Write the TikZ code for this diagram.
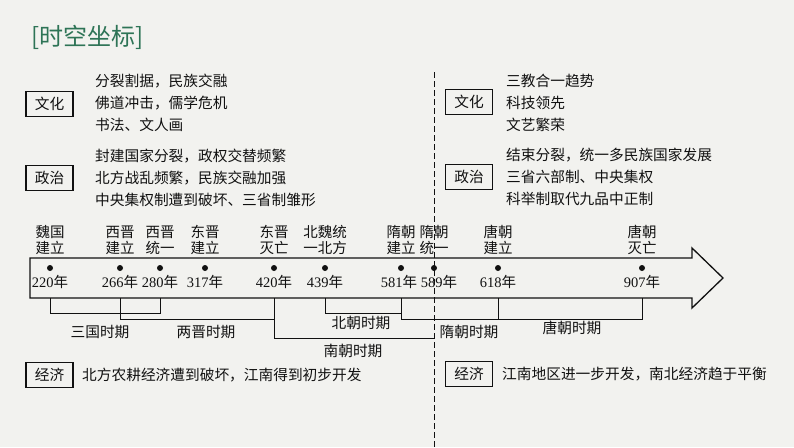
\documentclass[tikz,border=0pt]{standalone}
\usepackage{fontspec}
\setmainfont{Noto Sans CJK SC}
\newfontfamily\numfont{Liberation Serif}
\usetikzlibrary{calc}
\definecolor{Paper}{HTML}{F2F2EF}
\definecolor{Ink}{HTML}{111111}
\definecolor{Title}{HTML}{2E7456}
\newcommand{\yr}[1]{{\numfont #1}年}

\begin{document}
\begin{tikzpicture}[x=1pt,y=-1pt,font=\fontsize{14.7}{22}\selectfont,text=Ink,
    tag/.style={draw=Ink,line width=1.3pt,minimum width=47pt,minimum height=25pt,inner sep=0pt},
    notes/.style={anchor=west,align=left,inner sep=0pt},
    event/.style={align=center,inner sep=0pt,font=\fontsize{14.5}{16}\selectfont},
    dot/.style={circle,fill=Ink,inner sep=0pt,minimum size=6pt},
    year/.style={inner sep=0pt,font=\fontsize{14.5}{17}\selectfont},
    bracket/.style={draw=Ink,thick}]
    \fill[Paper] (0,0) rectangle (794,447);
    \useasboundingbox (0,0) rectangle (794,447);
    \node[anchor=west,inner sep=0pt,text=Title,font=\fontsize{24}{26}\selectfont] (title) at (31,37) {[时空坐标]};
    % left column
    \node[tag] (lcult) at (49.5,104) {文化};
    \node[notes] (lculttxt) at (95,103) {分裂割据，民族交融\\佛道冲击，儒学危机\\书法、文人画};
    \node[tag] (lpol) at (49.5,178) {政治};
    \node[notes] (lpoltxt) at (95,178) {封建国家分裂，政权交替频繁\\北方战乱频繁，民族交融加强\\中央集权制遭到破坏、三省制雏形};
    \node[tag] (lecon) at (49.5,375) {经济};
    \node[notes] (lecontxt) at (82,375) {北方农耕经济遭到破坏，江南得到初步开发};
    % right column
    \node[tag] (rcult) at (469,102) {文化};
    \node[notes] (rculttxt) at (506,103) {三教合一趋势\\科技领先\\文艺繁荣};
    \node[tag] (rpol) at (469,177) {政治};
    \node[notes] (rpoltxt) at (506,177) {结束分裂，统一多民族国家发展\\三省六部制、中央集权\\科举制取代九品中正制};
    \node[tag] (recon) at (469,374) {经济};
    \node[notes] (recontxt) at (502,374) {江南地区进一步开发，南北经济趋于平衡};
    % divider
    \coordinate (divtop) at (434,72);
    \coordinate (divbot) at (434,447);
    \draw[Ink,thick,dash pattern=on 6pt off 3pt] (divtop) -- (divbot);
    % time axis
    \draw[Ink,line width=1.3pt,line join=miter] (30,258) -- (692,258) -- (692,248) -- (723,278) -- (692,308) -- (692,298) -- (30,298) -- cycle;
    \foreach \x/\yy/\ev/\dx in {50/220/{魏国\\建立}/0,120/266/{西晋\\建立}/0,160/280/{西晋\\统一}/0,205/317/{东晋\\建立}/0,
        274/420/{东晋\\灭亡}/0,325/439/{北魏统\\一北方}/0,401/581/{隋朝\\建立}/-2,434/589/{隋朝\\统一}/5,
        498/618/{唐朝\\建立}/0,642/907/{唐朝\\灭亡}/0}{
      \node[event] (ev\yy) at (\x,240) {\ev};
      \node[dot] (d\yy) at (\x,268) {};
      \node[year] (yr\yy) at (\x+\dx,282) {\yr{\yy}};
      \coordinate (b\yy) at (\x,298);
    }
    % periods
    \draw[bracket] (b220) -- ++(0,15) -| (b280);
    \draw[bracket] (b266) -- ++(0,21) -| (b420);
    \draw[bracket] (b439) -- ++(0,15) -| (b581);
    \draw[bracket] (b420) |- ([yshift=-40pt]b589);
    \draw[bracket] (b581) -- ++(0,21) -| (b907);
    \draw[bracket] (b618) -- ++(0,21);
    \node (sanguo) at (100,332) {三国时期};
    \node (liangjin) at (206,332) {两晋时期};
    \node (beichao) at (361,323) {北朝时期};
    \node (nanchao) at (353,351) {南朝时期};
    \node (suichao) at (469,332) {隋朝时期};
    \node (tangchao) at (572,328) {唐朝时期};
\end{tikzpicture}
\end{document}
